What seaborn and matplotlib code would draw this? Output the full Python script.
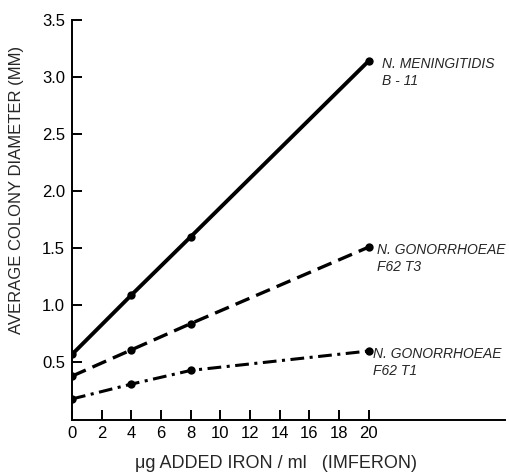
import matplotlib
matplotlib.use("Agg")
import matplotlib.pyplot as plt
import pandas as pd
import seaborn as sns

# iron added (ug/ml) and average colony diameter (mm)
iron = [0, 4, 8, 20]
meningitidis_b11 = [0.57, 1.09, 1.60, 3.14]
gonorrhoeae_t3 = [0.38, 0.61, 0.84, 1.51]
gonorrhoeae_t1 = [0.18, 0.31, 0.43, 0.60]

series_labels = [
    "N. MENINGITIDIS\nB - 11",
    "N. GONORRHOEAE\nF62 T3",
    "N. GONORRHOEAE\nF62 T1",
]
x_ticks = list(range(0, 21, 2))
y_ticks = [0.5, 1.0, 1.5, 2.0, 2.5, 3.0, 3.5]

sns.set_style("ticks")
plt.rcParams["font.family"] = ["Liberation Sans", "DejaVu Sans"]

fig = plt.figure(figsize=(5.1, 4.75), dpi=100)
ax = fig.add_axes([0.1412, 0.1168, 0.849, 0.8412])

styles = [
    dict(linestyle="-", linewidth=2.8),
    dict(linestyle=(0, (4.5, 2.2)), linewidth=2.4),
    dict(linestyle=(0, (4.5, 1.8, 1, 1.8)), linewidth=2.2),
]
offsets = [(10, -8), (6, -8), (3, -8)]

for values, label, st, off in zip(
    [meningitidis_b11, gonorrhoeae_t3, gonorrhoeae_t1], series_labels, styles, offsets
):
    df = pd.DataFrame({"iron": iron, "diam": values})
    sns.lineplot(
        data=df, x="iron", y="diam", ax=ax, color="black",
        marker="o", markersize=6, markeredgewidth=0, **st,
    )
    ax.annotate(
        label, xy=(iron[-1], values[-1]), xytext=off, textcoords="offset points",
        ha="left", va="center", fontsize=10, style="italic", linespacing=1.25,
    )

ax.set_xlim(0, 29.2)
ax.set_ylim(0, 3.5)
ax.set_xticks(x_ticks)
ax.set_yticks(y_ticks)
ax.set_yticklabels([f"{v:.1f}" for v in y_ticks])
ax.tick_params(axis="both", which="major", direction="in", length=7, width=1.4,
               labelsize=12, colors="black", pad=5)
for side in ["top", "right"]:
    ax.spines[side].set_visible(False)
for side in ["left", "bottom"]:
    ax.spines[side].set_linewidth(1.4)
    ax.spines[side].set_color("black")

ax.set_xlabel("\u03bcg ADDED IRON / ml   (IMFERON)", fontsize=13)
ax.xaxis.set_label_coords(0.471, -0.09)
ax.set_ylabel("AVERAGE COLONY DIAMETER (MM)", fontsize=12)
ax.yaxis.set_label_coords(-0.11, 0.574)

fig.savefig("out.png", dpi=100)
